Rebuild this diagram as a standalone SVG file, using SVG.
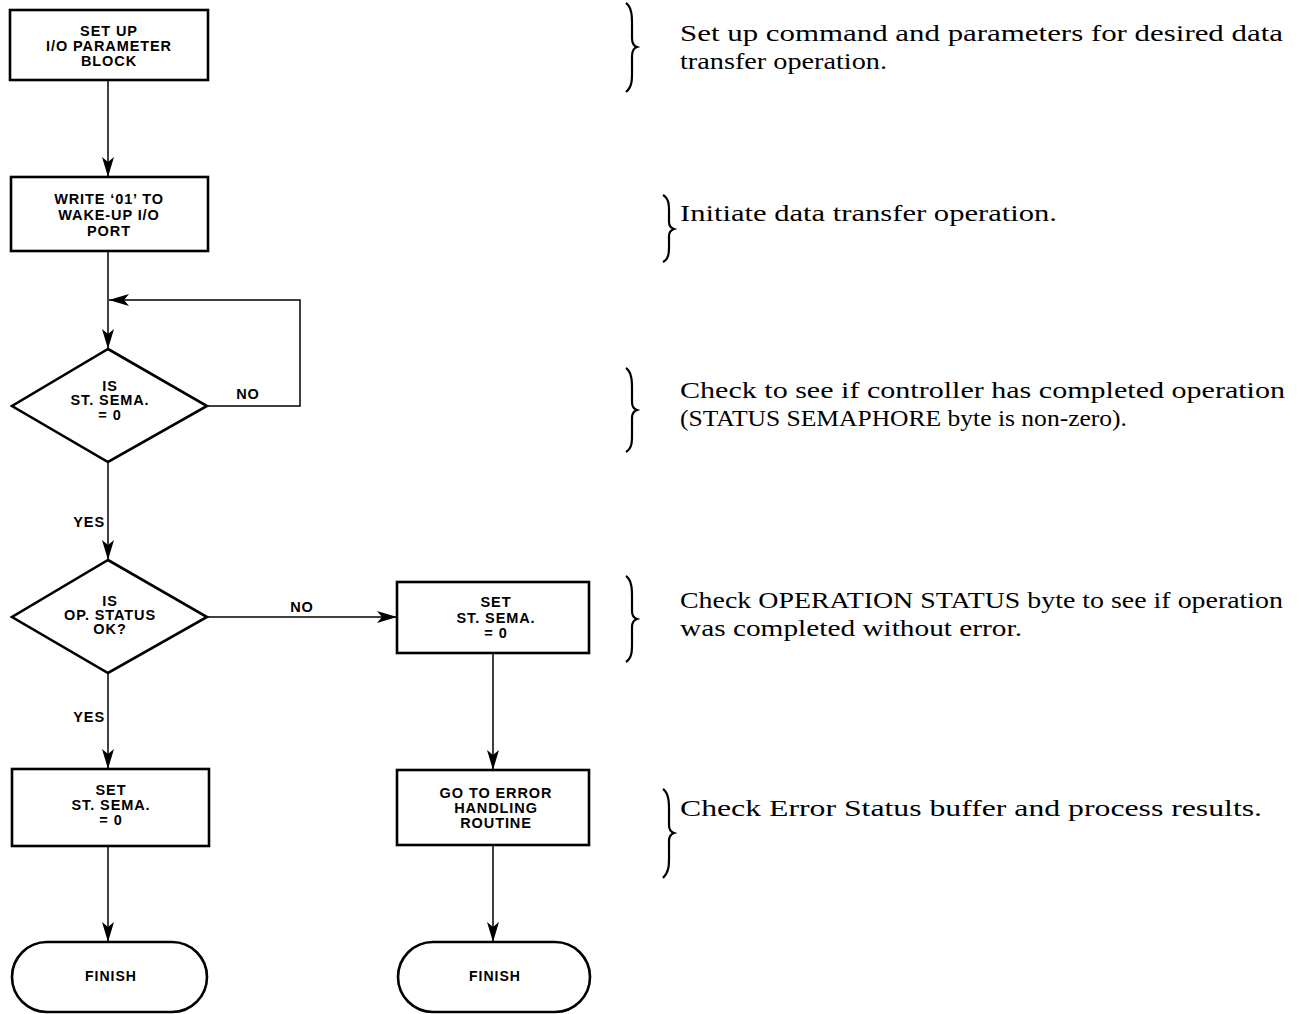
<svg xmlns="http://www.w3.org/2000/svg" width="1299" height="1014" viewBox="0 0 1299 1014">
<style>
.box{fill:#fff;stroke:#000;stroke-width:2.6}
.lbl{font-family:"Liberation Sans",Arial,sans-serif;font-weight:bold;font-size:14.5px;letter-spacing:0.9px;text-anchor:middle;fill:#000}
.fin{font-size:14px;letter-spacing:1px}
.end{text-anchor:end}
.con{fill:none;stroke:#000;stroke-width:1.5}
.note{font-family:"Liberation Serif","Times New Roman",serif;font-size:24px;fill:#000}
.brace{fill:none;stroke:#000;stroke-width:2.2}
</style>
<defs>
<marker id="arr" markerWidth="22" markerHeight="14" refX="20" refY="7" orient="auto" markerUnits="userSpaceOnUse">
<path d="M0,1 L20,7 L0,13 L5,7 Z" fill="#000"/>
</marker>
</defs>
<rect width="1299" height="1014" fill="#fff"/>

<g id="connectors">
<line class="con" x1="108" y1="80" x2="108" y2="177" marker-end="url(#arr)"/>
<line class="con" x1="108" y1="251" x2="108" y2="349" marker-end="url(#arr)"/>
<polyline class="con" points="207,406 300,406 300,300 109,300" marker-end="url(#arr)"/>
<line class="con" x1="108" y1="462" x2="108" y2="560" marker-end="url(#arr)"/>
<line class="con" x1="207" y1="617" x2="397" y2="617" marker-end="url(#arr)"/>
<line class="con" x1="108" y1="673" x2="108" y2="769" marker-end="url(#arr)"/>
<line class="con" x1="493" y1="653" x2="493" y2="770" marker-end="url(#arr)"/>
<line class="con" x1="108" y1="846" x2="108" y2="942" marker-end="url(#arr)"/>
<line class="con" x1="493" y1="845" x2="493" y2="942" marker-end="url(#arr)"/>
<text class="lbl" x="248" y="399">NO</text>
<text class="lbl" x="302" y="612">NO</text>
<text class="lbl end" x="105" y="527">YES</text>
<text class="lbl end" x="105" y="722">YES</text>
</g>

<g id="n1">
<rect class="box" x="10" y="10" width="198" height="70"/>
<text class="lbl" x="109" y="36">SET UP</text>
<text class="lbl" x="109" y="51">I/O PARAMETER</text>
<text class="lbl" x="109" y="66">BLOCK</text>
</g>

<g id="n2">
<rect class="box" x="11" y="177" width="197" height="74"/>
<text class="lbl" x="109" y="204">WRITE ‘01’ TO</text>
<text class="lbl" x="109" y="220">WAKE-UP I/O</text>
<text class="lbl" x="109" y="236">PORT</text>
</g>

<g id="n3">
<polygon class="box" points="108,349 207,406 108,462 12,406"/>
<text class="lbl" x="110" y="391">IS</text>
<text class="lbl" x="110" y="405">ST. SEMA.</text>
<text class="lbl" x="110" y="420">= 0</text>
</g>

<g id="n4">
<polygon class="box" points="108,560 207,617 108,673 12,617"/>
<text class="lbl" x="110" y="606">IS</text>
<text class="lbl" x="110" y="620">OP. STATUS</text>
<text class="lbl" x="110" y="634">OK?</text>
</g>

<g id="n5">
<rect class="box" x="397" y="582" width="192" height="71"/>
<text class="lbl" x="496" y="607">SET</text>
<text class="lbl" x="496" y="623">ST. SEMA.</text>
<text class="lbl" x="496" y="638">= 0</text>
</g>

<g id="n6">
<rect class="box" x="12" y="769" width="197" height="77"/>
<text class="lbl" x="111" y="795">SET</text>
<text class="lbl" x="111" y="810">ST. SEMA.</text>
<text class="lbl" x="111" y="825">= 0</text>
</g>

<g id="n7">
<rect class="box" x="397" y="770" width="192" height="75"/>
<text class="lbl" x="496" y="798">GO TO ERROR</text>
<text class="lbl" x="496" y="813">HANDLING</text>
<text class="lbl" x="496" y="828">ROUTINE</text>
</g>

<g id="n8">
<rect class="box" x="12" y="942" width="195" height="70" rx="35" ry="35"/>
<text class="lbl fin" x="111" y="981">FINISH</text>
</g>

<g id="n9">
<rect class="box" x="398" y="942" width="192" height="70" rx="35" ry="35"/>
<text class="lbl fin" x="495" y="981">FINISH</text>
</g>

<g id="notes">
<path class="brace" d="M626,3 C633,8 632,20 632,32 L632,38 C632,43 634,46 637,47 C634,48 632,51 632,56 L632,66 C632,78 633,86 626,92"/>
<text class="note" x="680" y="41" textLength="603" lengthAdjust="spacingAndGlyphs">Set up command and parameters for desired data</text>
<text class="note" x="680" y="69" textLength="207" lengthAdjust="spacingAndGlyphs">transfer operation.</text>

<path class="brace" d="M663,195 C670,199 669,208 669,216 L669,222 C669,226 671,228 674,229 C671,230 669,232 669,236 L669,242 C669,250 670,258 663,262"/>
<text class="note" x="680" y="221" textLength="377" lengthAdjust="spacingAndGlyphs">Initiate data transfer operation.</text>

<path class="brace" d="M626,368 C633,373 632,385 632,396 L632,402 C632,406 634,409 637,410 C634,411 632,414 632,418 L632,428 C632,440 633,448 626,452"/>
<text class="note" x="680" y="398" textLength="605" lengthAdjust="spacingAndGlyphs">Check to see if controller has completed operation</text>
<text class="note" x="680" y="426" textLength="447" lengthAdjust="spacingAndGlyphs">(STATUS SEMAPHORE byte is non-zero).</text>

<path class="brace" d="M626,576 C633,581 632,593 632,604 L632,611 C632,615 634,618 637,619 C634,620 632,623 632,627 L632,637 C632,649 633,657 626,662"/>
<text class="note" x="680" y="608" textLength="603" lengthAdjust="spacingAndGlyphs">Check OPERATION STATUS byte to see if operation</text>
<text class="note" x="680" y="636" textLength="342" lengthAdjust="spacingAndGlyphs">was completed without error.</text>

<path class="brace" d="M663,789 C670,794 669,806 669,817 L669,825 C669,829 671,832 674,833 C671,834 669,837 669,841 L669,851 C669,863 670,871 663,878"/>
<text class="note" x="680" y="816" textLength="582" lengthAdjust="spacingAndGlyphs">Check Error Status buffer and process results.</text>
</g>
</svg>
